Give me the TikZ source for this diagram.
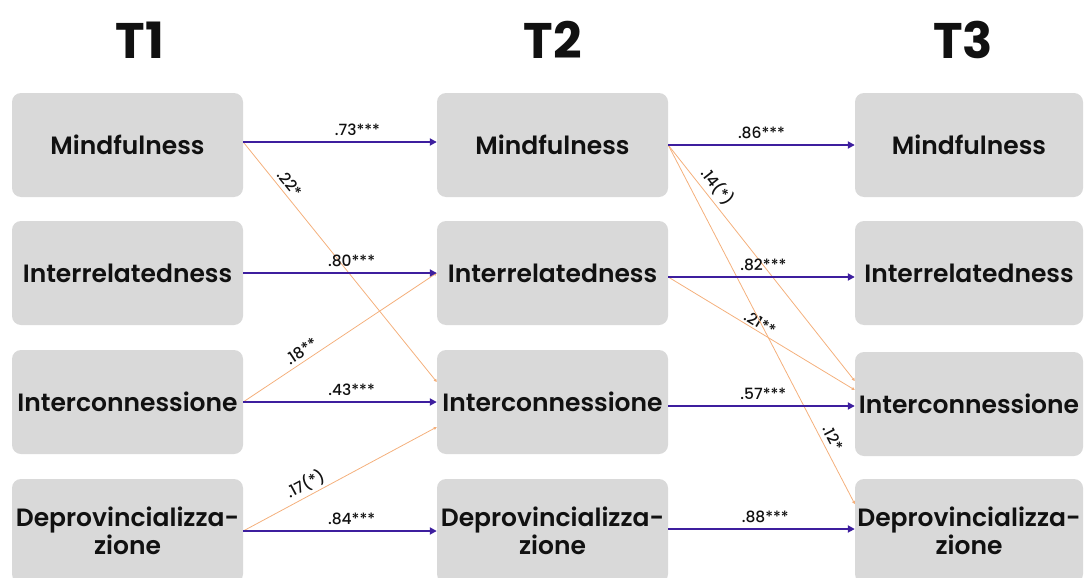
\documentclass[tikz,border=0pt]{standalone}
\usepackage{fontspec}
\setmainfont{Poppins}[BoldFont={* SemiBold}]
\newfontfamily\titlefont{Poppins}[UprightFont={* Bold}]
\newfontfamily\coeffont{Poppins}[UprightFont={* Medium}]
\usetikzlibrary{arrows.meta}
\definecolor{boxgray}{HTML}{D9D9D9}
\definecolor{pathpurple}{HTML}{3D1E9E}
\definecolor{crossorange}{HTML}{F4B07C}
\definecolor{ink}{HTML}{111111}
\tikzset{
  x=1pt, y=-1pt,
  varbox/.style={fill=boxgray, rounded corners=9pt, minimum width=231pt,
    minimum height=104pt, inner sep=0pt, align=center, text=ink,
    font=\bfseries\fontsize{25}{28}\selectfont},
  wave/.style={font=\titlefont\fontsize{50}{50}\selectfont, text=ink},
  stable/.style={draw=pathpurple, line width=1.8pt,
    -{Triangle[length=7pt,width=7pt]}},
  cross/.style={draw=crossorange, line width=0.8pt,
    -{Triangle[length=3pt,width=3pt]}},
  coef/.style={font=\coeffont\fontsize{15.5}{15.5}\selectfont, text=ink, inner sep=2pt},
}
\begin{document}
\begin{tikzpicture}
\useasboundingbox (0,0) rectangle (1084,578);
\clip (0,0) rectangle (1084,578);

% wave headers
\node[wave] (h1) at (140,40) {T1};
\node[wave] (h2) at (553,40) {T2};
\node[wave] (h3) at (963,40) {T3};

% T1 variables
\node[varbox] (m1) at (127.5,145) {Mindfulness};
\node[varbox] (r1) at (127.5,273) {Interrelatedness};
\node[varbox] (c1) at (127.5,402) {Interconnessione};
\node[varbox] (d1) at (127.5,531) {Deprovincializza-\\zione};

% T2 variables
\node[varbox] (m2) at (552.5,145) {Mindfulness};
\node[varbox] (r2) at (552.5,273) {Interrelatedness};
\node[varbox] (c2) at (552.5,402) {Interconnessione};
\node[varbox] (d2) at (552.5,531) {Deprovincializza-\\zione};

% T3 variables
\node[varbox, minimum width=228pt] (m3) at (969,145) {Mindfulness};
\node[varbox, minimum width=228pt] (r3) at (969,273) {Interrelatedness};
\node[varbox, minimum width=228pt] (c3) at (969,404) {Interconnessione};
\node[varbox, minimum width=228pt] (d3) at (969,531) {Deprovincializza-\\zione};

% cross-lagged paths
\draw[cross] ([yshift=3pt]m1.east) -- ([yshift=20pt]c2.west)
  node[coef, sloped, above=2pt, pos=0.2] {.22*};
\draw[cross] (c1.east) -- (r2.west)
  node[coef, sloped, above=2pt, pos=0.33] {.18**};
\draw[cross] (d1.east) -- ([yshift=-25pt]c2.west)
  node[coef, sloped, above=1pt, pos=0.35] {.17(*)};
\draw[cross] (m2.east) -- ([yshift=23pt]c3.west)
  node[coef, sloped, above=2pt, pos=0.21] {.14(*)};
\draw[cross] ([yshift=-4pt]r2.east) -- ([yshift=14pt]c3.west)
  node[coef, sloped, above=0pt, pos=0.47] {.21**};
\draw[cross] (m2.east) -- ([yshift=27pt]d3.west)
  node[coef, sloped, above=3pt, pos=0.83] {.12*};

% autoregressive paths
\draw[stable] ([yshift=3pt]m1.east) -- ([yshift=3pt]m2.west)
  node[coef, above=3pt, pos=0.59] {.73***};
\draw[stable] (r1.east) -- (r2.west)
  node[coef, above=3pt, pos=0.56] {.80***};
\draw[stable] (c1.east) -- (c2.west)
  node[coef, above=3pt, pos=0.56] {.43***};
\draw[stable] (d1.east) -- (d2.west)
  node[coef, above=3pt, pos=0.56] {.84***};
\draw[stable] (m2.east) -- (m3.west)
  node[coef, above=3pt, pos=0.5] {.86***};
\draw[stable] ([yshift=-4pt]r2.east) -- ([yshift=-4pt]r3.west)
  node[coef, above=3pt, pos=0.51] {.82***};
\draw[stable] ([yshift=-4pt]c2.east) -- ([yshift=-2pt]c3.west)
  node[coef, above=3pt, pos=0.51] {.57***};
\draw[stable] ([yshift=2pt]d2.east) -- ([yshift=2pt]d3.west)
  node[coef, above=3pt, pos=0.52] {.88***};
\end{tikzpicture}
\end{document}
